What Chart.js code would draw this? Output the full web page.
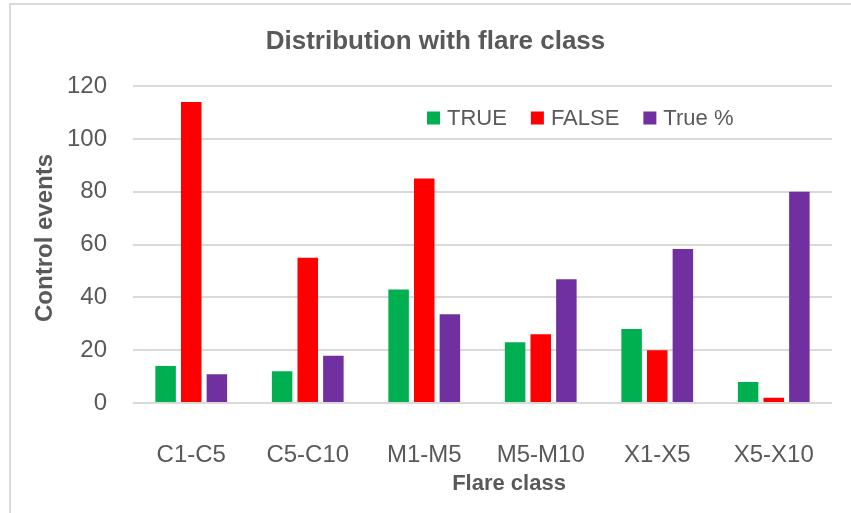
<!DOCTYPE html>
<html>
<head>
<meta charset="utf-8">
<script src="https://cdn.jsdelivr.net/npm/chart.js@4.4.0/dist/chart.umd.min.js"></script>
<style>
  html, body { margin: 0; padding: 0; background: #fff; overflow: hidden; }
  #frame { position: absolute; left: 9px; top: 3px; width: 900px; height: 600px; border: 2px solid #d9d9d9; }
  #wrap { position: absolute; left: 0; top: 0; width: 851px; height: 513px; }
</style>
</head>
<body>
<div id="frame"></div>
<div id="wrap"><canvas id="myCanvas" width="851" height="513"></canvas></div>
<script>
const categories = ['C1-C5', 'C5-C10', 'M1-M5', 'M5-M10', 'X1-X5', 'X5-X10'];
const trueCounts = [14, 12, 43, 23, 28, 8];
const falseCounts = [114, 55, 85, 26, 20, 2];
const truePercent = [10.9, 17.9, 33.6, 46.9, 58.3, 80];
const yTicks = [0, 20, 40, 60, 80, 100, 120];

const FONT = "'Liberation Sans', Arial, sans-serif";
const GREY = '#595959';

// legend drawn inside the plot, like the Excel original
const insideLegend = {
    id: 'insideLegend',
    afterDraw(chart, args, opts) {
        const ctx = chart.ctx;
        ctx.save();
        ctx.font = opts.size + 'px ' + FONT;
        ctx.textBaseline = 'middle';
        let x = opts.x;
        chart.data.datasets.forEach(ds => {
            ctx.fillStyle = ds.backgroundColor;
            ctx.fillRect(x, opts.y - opts.box / 2, opts.box, opts.box);
            x += opts.box + opts.gap;
            ctx.fillStyle = GREY;
            ctx.fillText(ds.label, x, opts.y + 1);
            x += ctx.measureText(ds.label).width + opts.spacing;
        });
        ctx.restore();
    }
};

// axis titles, placed where Excel put them (not centred on the plot)
const axisTitles = {
    id: 'axisTitles',
    afterDraw(chart, args, opts) {
        const ctx = chart.ctx;
        ctx.save();
        ctx.fillStyle = GREY;
        ctx.textAlign = 'center';
        ctx.textBaseline = 'middle';
        ctx.font = 'bold ' + opts.xSize + 'px ' + FONT;
        ctx.fillText(opts.xText, opts.xPos[0], opts.xPos[1]);
        ctx.font = 'bold ' + opts.ySize + 'px ' + FONT;
        ctx.translate(opts.yPos[0], opts.yPos[1]);
        ctx.rotate(-Math.PI / 2);
        ctx.fillText(opts.yText, 0, 0);
        ctx.restore();
    }
};

const ctx = document.getElementById('myCanvas').getContext('2d');

let chart = new Chart(ctx, {
    type: 'bar',
    data: {
        labels: categories,
        datasets: [
            { label: 'TRUE', data: trueCounts, backgroundColor: '#00b050' },
            { label: 'FALSE', data: falseCounts, backgroundColor: '#ff0000' },
            { label: 'True %', data: truePercent, backgroundColor: '#7030a0' }
        ]
    },
    options: {
        responsive: false,
        animation: false,
        layout: { padding: { left: 39, right: 19, top: 0, bottom: 0 } },
        datasets: {
            bar: { categoryPercentage: 0.66, barPercentage: 0.8 }
        },
        scales: {
            x: {
                grid: { display: false },
                border: { display: false },
                ticks: {
                    color: GREY, padding: 30,
                    font: { family: FONT, size: 24 }
                },
                afterFit: scale => { scale.height = 110; }
            },
            y: {
                min: 0,
                max: 120,
                afterBuildTicks: scale => { scale.ticks = yTicks.map(v => ({ value: v })); },
                grid: { color: '#d9d9d9', lineWidth: 2, drawTicks: false },
                border: { display: false },
                ticks: {
                    color: GREY, padding: 26,
                    font: { family: FONT, size: 24 }
                },
                afterFit: scale => { scale.width = 94; }
            }
        },
        plugins: {
            legend: { display: false },
            tooltip: { enabled: false },
            title: {
                display: true,
                text: 'Distribution with flare class',
                color: GREY,
                font: { family: FONT, size: 26, weight: 'bold' },
                padding: { top: 26, bottom: 29 }
            },
            insideLegend: { x: 427, y: 118, box: 13, gap: 7, spacing: 24, size: 22 },
            axisTitles: {
                xSize: 22, ySize: 24,
                xText: 'Flare class', xPos: [509, 484],
                yText: 'Control events', yPos: [45, 238]
            }
        }
    },
    plugins: [insideLegend, axisTitles]
});
</script>
</body>
</html>
